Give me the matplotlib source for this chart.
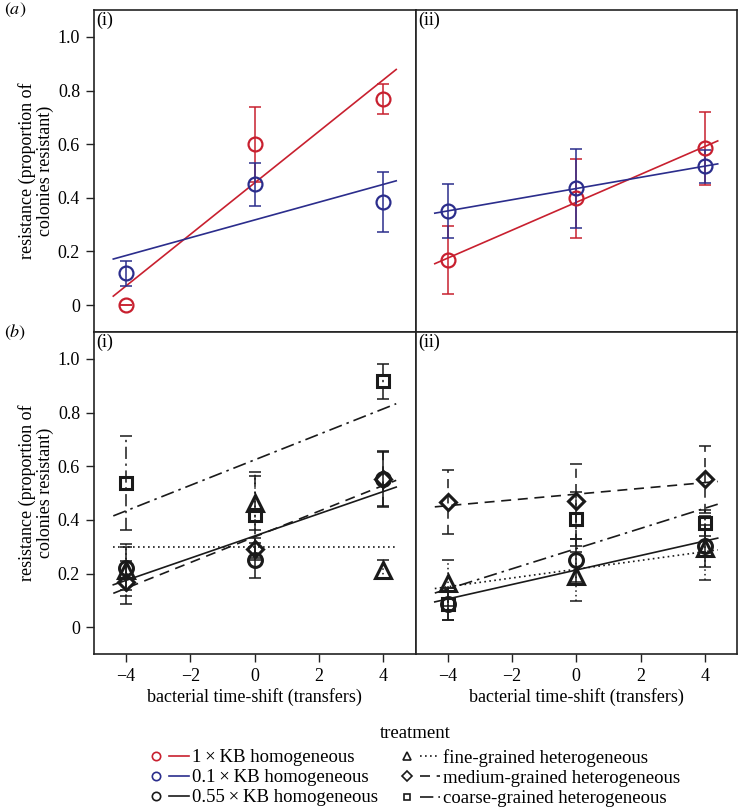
import numpy as np
import matplotlib
matplotlib.use('Agg')
import matplotlib.pyplot as plt
from matplotlib.lines import Line2D
from matplotlib.legend_handler import HandlerTuple

plt.rcParams['font.family'] = ['Liberation Serif', 'DejaVu Serif']
plt.rcParams['mathtext.fontset'] = 'stix'

shift = [-4, 0, 4]

# (a)(i)
a1_kb1 = [0.0, 0.60, 0.768]
a1_kb1_se = [0.0, 0.14, 0.055]
a1_kb01 = [0.119, 0.450, 0.384]
a1_kb01_se = [0.047, 0.08, 0.113]
# (a)(ii)
a2_kb1 = [0.168, 0.398, 0.584]
a2_kb1_se = [0.128, 0.148, 0.135]
a2_kb01 = [0.351, 0.435, 0.518]
a2_kb01_se = [0.10, 0.147, 0.062]
# (b)(i)
b1_kb055 = [0.220, 0.249, 0.551]
b1_kb055_se = [0.08, 0.066, 0.105]
b1_fine = [0.214, 0.463, 0.214]
b1_fine_se = [0.097, 0.10, 0.035]
b1_medium = [0.168, 0.291, 0.551]
b1_medium_se = [0.08, 0.04, 0.10]
b1_coarse = [0.537, 0.417, 0.917]
b1_coarse_se = [0.174, 0.16, 0.065]
# (b)(ii)
b2_kb055 = [0.087, 0.249, 0.303]
b2_kb055_se = [0.06, 0.08, 0.077]
b2_fine = [0.164, 0.189, 0.295]
b2_fine_se = [0.085, 0.09, 0.12]
b2_medium = [0.466, 0.469, 0.552]
b2_medium_se = [0.118, 0.14, 0.125]
b2_coarse = [0.087, 0.403, 0.388]
b2_coarse_se = [0.06, 0.10, 0.05]

yticks = [0, 0.2, 0.4, 0.6, 0.8, 1.0]
ytick_labels = ['0', '0.2', '0.4', '0.6', '0.8', '1.0']
xticks = [-4, -2, 0, 2, 4]
xtick_labels = ['\u22124', '\u22122', '0', '2', '4']

homog_labels = ['1\u2009\u00d7\u2009KB homogeneous',
                '0.1\u2009\u00d7\u2009KB homogeneous',
                '0.55\u2009\u00d7\u2009KB homogeneous']
heterog_labels = ['fine-grained heterogeneous',
                  'medium-grained heterogeneous',
                  'coarse-grained heterogeneous']

RED = '#c8202f'
BLUE = '#2b2d8c'
BLACK = '#1a1a1a'
DOT = (0, (1, 2))
DASH = (0, (6, 4))
DASHDOT = (0, (8, 3, 1.5, 3))

FS = 13
LFS = 13.5
W, H = 739, 808
fig = plt.figure(figsize=(W / 100, H / 100), dpi=100)

left, right = 94 / W, 737 / W
mid = (left + right) / 2
pw = mid - left
top_a, mid_y, bot = 1 - 10 / H, 1 - 332 / H, 1 - 654 / H
ph = top_a - mid_y

axes = {}
axes['a1'] = fig.add_axes([left, mid_y, pw, ph])
axes['a2'] = fig.add_axes([mid, mid_y, pw, ph])
axes['b1'] = fig.add_axes([left, bot, pw, ph])
axes['b2'] = fig.add_axes([mid, bot, pw, ph])


def series(ax, y, se, color, marker, ls, ms=10, mew=1.6):
    eb = ax.errorbar(shift, y, yerr=se, fmt='none', ecolor=color,
                     elinewidth=1.1, capsize=4.5, capthick=1.1, zorder=2)
    for lc in eb[2]:
        lc.set_linestyle(ls)
    ax.plot(shift, y, linestyle='none', marker=marker, ms=ms, mfc='none',
            mec=color, mew=mew, zorder=3)
    k, c = np.polyfit(shift, y, 1)
    xx = np.array([-4.4, 4.4])
    ax.plot(xx, k * xx + c, color=color, ls=ls, lw=1.2, zorder=2)


series(axes['a1'], a1_kb1, a1_kb1_se, RED, 'o', '-')
series(axes['a1'], a1_kb01, a1_kb01_se, BLUE, 'o', '-')
series(axes['a2'], a2_kb1, a2_kb1_se, RED, 'o', '-')
series(axes['a2'], a2_kb01, a2_kb01_se, BLUE, 'o', '-')

for key, d in (('b1', (b1_kb055, b1_kb055_se, b1_fine, b1_fine_se, b1_medium, b1_medium_se, b1_coarse, b1_coarse_se)),
               ('b2', (b2_kb055, b2_kb055_se, b2_fine, b2_fine_se, b2_medium, b2_medium_se, b2_coarse, b2_coarse_se))):
    ax = axes[key]
    series(ax, d[0], d[1], BLACK, 'o', '-', ms=10, mew=2.2)
    series(ax, d[2], d[3], BLACK, '^', DOT, ms=11, mew=2.2)
    series(ax, d[4], d[5], BLACK, 'D', DASH, ms=8, mew=2.2)
    series(ax, d[6], d[7], BLACK, 's', DASHDOT, ms=9, mew=2.2)

for key, ax in axes.items():
    ax.set_xlim(-5, 5)
    ax.set_ylim(-0.1, 1.1)
    for sp in ax.spines.values():
        sp.set_linewidth(1.2)
        sp.set_color('#222222')
    ax.set_yticks(yticks)
    ax.set_xticks(xticks)
    ax.tick_params(direction='out', length=6, width=1.0, labelsize=FS,
                   color='#222222', pad=4)
    if key in ('a1', 'b1'):
        ax.set_yticklabels(ytick_labels)
        ax.set_ylabel('resistance (proportion of\ncolonies resistant)',
                      fontsize=FS, labelpad=3, linespacing=1.05)
    else:
        ax.tick_params(axis='y', left=False, labelleft=False)
    if key in ('b1', 'b2'):
        ax.set_xticklabels(xtick_labels)
        ax.set_xlabel('bacterial time-shift (transfers)', fontsize=FS, labelpad=2)
    else:
        ax.tick_params(axis='x', bottom=False, labelbottom=False)
    ax.text(0.008, 0.994, '(i)' if key.endswith('1') else '(ii)',
            transform=ax.transAxes, ha='left', va='top', fontsize=FS)

fig.text(4 / W, 1 - 1 / H, r'$(\mathit{a})$', ha='left', va='top', fontsize=FS)
fig.text(4 / W, 1 - 323 / H, r'$(\mathit{b})$', ha='left', va='top', fontsize=FS)

# legend
def handle(color, marker, ls, ms):
    return (Line2D([], [], ls='none', marker=marker, mfc='none', mec=color,
                   mew=1.2, ms=ms),
            Line2D([], [], color=color, ls=ls, lw=1.2))

h_homog = [handle(RED, 'o', '-', 6), handle(BLUE, 'o', '-', 6),
           handle(BLACK, 'o', '-', 6)]
h_heterog = [handle(BLACK, '^', DOT, 6), handle(BLACK, 'D', DASH, 5),
             handle(BLACK, 's', DASHDOT, 5)]

fig.text(415 / W, 1 - 733 / H, 'treatment', ha='center', va='center',
         fontsize=LFS)
common = dict(loc='upper left', frameon=False, fontsize=LFS,
              handler_map={tuple: HandlerTuple(ndivide=None, pad=0.15)},
              handlelength=2.3, handletextpad=0.15, labelspacing=0.16,
              borderpad=0.0, borderaxespad=0.0)
leg1 = fig.legend(h_homog, homog_labels, bbox_to_anchor=(146 / W, 1 - 749 / H), **common)
leg2 = fig.legend(h_heterog, heterog_labels, bbox_to_anchor=(397 / W, 1 - 749 / H), **common)

fig.savefig('out.png', dpi=100)
